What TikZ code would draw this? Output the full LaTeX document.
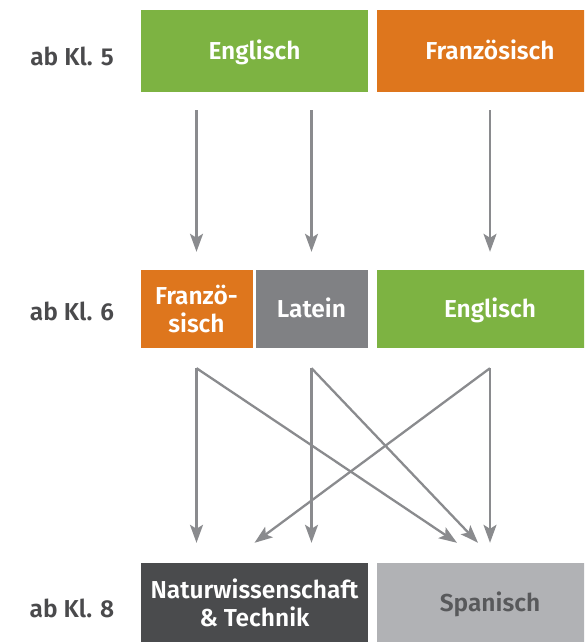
\documentclass[tikz,border=0pt]{standalone}
\usepackage{fontspec}
\setmainfont{Fira Sans}[UprightFont=* SemiBold, BoldFont=* Bold]
\usetikzlibrary{arrows.meta,calc}
\definecolor{cgreen}{RGB}{125,179,66}
\definecolor{corange}{RGB}{222,118,29}
\definecolor{cgrey}{RGB}{128,129,132}
\definecolor{cdark}{RGB}{74,75,77}
\definecolor{clight}{RGB}{177,178,181}
\definecolor{ctext}{RGB}{74,74,76}
\definecolor{cspan}{RGB}{88,89,91}
\definecolor{carrow}{RGB}{138,139,142}
\begin{document}
\begin{tikzpicture}[x=1pt,y=1pt,
  box/.style={inner sep=0pt, align=center, text=white, font=\fontsize{24.5}{28}\selectfont},
  one/.style={text height=17pt, text depth=0pt},
  lbl/.style={inner sep=0pt, text=ctext, text height=17pt, text depth=0pt, font=\fontsize{24.5}{28}\selectfont},
  arr/.style={draw=carrow, line width=2.3pt, -{Stealth[length=18pt,width=13pt,inset=4pt]}}]
\useasboundingbox (0,0) rectangle (584,-642);
\clip (0,0) rectangle (584,-642);
% row 1
\node[box, one, fill=cgreen, minimum width=227pt, minimum height=82pt] (e5) at (254.5,-51) {Englisch};
\node[box, one, fill=corange, minimum width=226pt, minimum height=82pt] (f5) at (490,-51) {Französisch};
% row 2
\node[box, fill=corange, minimum width=112pt, minimum height=78pt] (f6) at (196.5,-309) {Franzö-\\sisch};
\node[box, one, fill=cgrey, minimum width=112pt, minimum height=78pt] (l6) at (311.5,-309) {Latein};
\node[box, one, fill=cgreen, minimum width=226pt, minimum height=78pt] (e6) at (490,-309) {Englisch};
% row 3
\node[box, fill=cdark, minimum width=227pt, minimum height=80pt] (nt8) at (254.5,-603) {Naturwissenschaft\\\& Technik};
\node[box, one, fill=clight, text=cspan, minimum width=226pt, minimum height=80pt] (s8) at (490,-603) {Spanisch};
% labels
\node[lbl] (k5) at (72,-57.5) {ab Kl. 5};
\node[lbl] (k6) at (72,-311.5) {ab Kl. 6};
\node[lbl] (k8) at (72,-609) {ab Kl. 8};
% arrows row 1 -> row 2
\draw[arr] ([yshift=-18pt]e5.south -| f6.center) -- ([yshift=18pt]f6.north);
\draw[arr] ([yshift=-18pt]e5.south -| l6.center) -- ([yshift=18pt]l6.north);
\draw[arr] ([yshift=-18pt]f5.south) -- ([yshift=18pt]e6.north);
% arrows row 2 -> row 3
\coordinate (sf) at ([yshift=-20pt]f6.south);
\coordinate (sl) at ([yshift=-20pt]l6.south);
\coordinate (se) at ([yshift=-20pt]e6.south);
\draw[arr] (sf) -- ([yshift=20pt]nt8.north -| f6.center);
\draw[arr] (sf) -- ([xshift=-33pt,yshift=20pt]s8.north);
\draw[arr] (sl) -- ([yshift=20pt]nt8.north -| l6.center);
\draw[arr] (sl) -- ([xshift=-12pt,yshift=20pt]s8.north);
\draw[arr] (se) -- ([yshift=20pt]s8.north);
\draw[arr] (se) -- ([yshift=20pt]nt8.north);
\end{tikzpicture}
\end{document}
